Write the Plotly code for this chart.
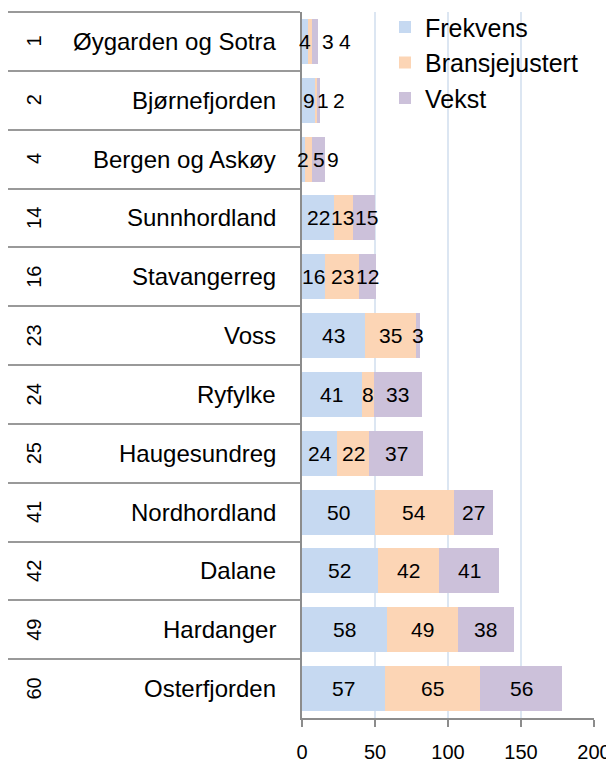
import plotly.graph_objects as go

regions = ["Øygarden og Sotra", "Bjørnefjorden", "Bergen og Askøy", "Sunnhordland",
           "Stavangerreg", "Voss", "Ryfylke", "Haugesundreg", "Nordhordland",
           "Dalane", "Hardanger", "Osterfjorden"]
ranks = [1, 2, 4, 14, 16, 23, 24, 25, 41, 42, 49, 60]
frekvens = [4, 9, 2, 22, 16, 43, 41, 24, 50, 52, 58, 57]
bransje = [3, 1, 5, 13, 23, 35, 8, 22, 54, 42, 49, 65]
vekst = [4, 2, 9, 15, 12, 3, 33, 37, 27, 41, 38, 56]

series = [("Frekvens", frekvens, "#c6d9f1"),
          ("Bransjejustert", bransje, "#fcd5b5"),
          ("Vekst", vekst, "#ccc1da")]

# pixel shifts for crowded labels (style only)
label_shift = {(0, 1): 18, (0, 2): 30, (1, 1): 7, (1, 2): 21, (2, 1): 10, (2, 2): 14,
               (3, 1): -1, (3, 2): 2}

W, H = 614, 762
ML, MR, MT, MB = 294, 28, 4, 52
PW = W - ML - MR
PH = H - MT - MB
FONT = "Liberation Sans, Arial, sans-serif"

fig = go.Figure()
for name, vals, col in series:
    fig.add_trace(go.Bar(y=regions, x=vals, name=name, orientation="h",
                         marker=dict(color=col, line=dict(width=0)),
                         hoverinfo="x+name"))

annotations = []
cum = [0] * len(regions)
for si, (name, vals, col) in enumerate(series):
    for i, v in enumerate(vals):
        mid = cum[i] + v / 2
        cum[i] += v
        annotations.append(dict(x=mid, y=regions[i], xref="x", yref="y", text=str(v),
                                showarrow=False, font=dict(size=21, color="black", family=FONT),
                                xshift=label_shift.get((i, si), 0)))

for i, r in enumerate(regions):
    annotations.append(dict(x=(270 - ML) / PW, y=r, xref="paper", yref="y", text=r,
                            xanchor="right", showarrow=False,
                            font=dict(size=24, color="black", family=FONT)))
    annotations.append(dict(x=(26 - ML) / PW, y=r, xref="paper", yref="y", text=str(ranks[i]),
                            textangle=-90, xanchor="center", yanchor="middle", showarrow=False,
                            font=dict(size=20, color="black", family=FONT)))

fig.update_layout(
    barmode="stack",
    bargap=0.235,
    width=W, height=H,
    margin=dict(l=ML, r=MR, t=MT, b=MB, autoexpand=False),
    plot_bgcolor="white", paper_bgcolor="white",
    font=dict(family=FONT, color="black"),
    annotations=annotations,
    legend=dict(x=(377 - ML) / PW, y=1.011, xanchor="left", yanchor="top",
                bgcolor="rgba(0,0,0,0)", font=dict(size=25, family=FONT),
                itemwidth=30, traceorder="normal"),
    showlegend=True,
)
fig.update_xaxes(range=[0, 200], dtick=50, showgrid=True, gridcolor="#dce6f2", gridwidth=1.5,
                 showline=True, linecolor="#8c8c8c", linewidth=1.5, ticks="outside",
                 ticklen=7, tickcolor="#8c8c8c", tickwidth=1.5, zeroline=False,
                 automargin=False,
                 tickfont=dict(size=20, family=FONT, color="black"), ticklabelstandoff=8)
fig.update_yaxes(autorange="reversed", showticklabels=False, showgrid=False,
                 showline=True, linecolor="#8c8c8c", linewidth=1.5, automargin=False,
                 ticks="outside", tickson="boundaries", ticklen=292, tickcolor="#999999",
                 tickwidth=1.5)

fig.write_html("out.html")
